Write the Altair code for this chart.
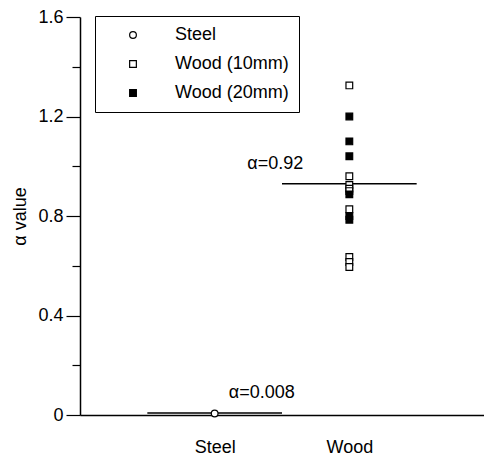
import altair as alt
import pandas as pd

# ---- data ----
categories = ["Steel", "Wood"]
cat_pos = [1, 2]

steel_vals = [0.006]
wood10_vals = [1.325, 0.96, 0.925, 0.91, 0.90, 0.827, 0.635, 0.615, 0.595]
wood20_vals = [1.20, 1.10, 1.04, 0.887, 0.80, 0.785]

mean_labels = ["α=0.008", "α=0.92"]
mean_vals = [0.008, 0.93]
mean_x1 = [0.5, 1.5]
mean_x2 = [1.5, 2.5]
label_x = [1.35, 1.45]
label_y = [0.067, 0.99]

series_names = ["Steel", "Wood (10mm)", "Wood (20mm)"]

rows = []
for v in steel_vals:
    rows.append({"x": 1, "y": v, "series": "Steel"})
for v in wood10_vals:
    rows.append({"x": 2, "y": v, "series": "Wood (10mm)"})
for v in wood20_vals:
    rows.append({"x": 2, "y": v, "series": "Wood (20mm)"})
pts = pd.DataFrame(rows)

means = pd.DataFrame({"x1": mean_x1, "x2": mean_x2, "y": mean_vals,
                      "lx": label_x, "ly": label_y, "label": mean_labels})

FONT = "Liberation Sans"

xscale = alt.Scale(domain=[0, 3], nice=False, zero=False)
yscale = alt.Scale(domain=[0, 1.6], nice=False)

xaxis = alt.Axis(values=cat_pos, title=None, grid=False, ticks=False,
                 labelExpr="datum.value == 1 ? 'Steel' : (datum.value == 2 ? 'Wood' : '')",
                 labelFont=FONT, labelFontSize=18, labelColor="black",
                 labelPadding=23, domainColor="black", domainWidth=1.5)
yaxis = alt.Axis(values=[0, 0.2, 0.4, 0.6, 0.8, 1.0, 1.2, 1.4, 1.6], title="α value",
                 grid=False,
                 labelExpr="round(datum.value*5) % 2 == 1 ? '' : (datum.value == 0 ? '0' : format(datum.value, '.1f'))",
                 tickSize={"condition": {"test": "round(datum.value*5) % 2 == 1", "value": 8}, "value": 14},
                 tickColor="black", tickWidth=1.2, domainColor="black", domainWidth=1.5,
                 labelFont=FONT, labelFontSize=18, labelColor="black", labelPadding=3,
                 titleFont=FONT, titleFontSize=18, titleFontWeight="normal", titleColor="black",
                 titlePadding=8)

leg = alt.Legend(title=None, orient="none", legendX=15, legendY=-1,
                 strokeColor="black", padding=10, symbolOffset=19,
                 symbolSize=45, symbolStrokeWidth=1.2, labelOffset=33,
                 labelFont=FONT, labelFontSize=18, labelColor="black",
                 rowPadding=11)

points = alt.Chart(pts).mark_point(size=45, strokeWidth=1.2, opacity=1).encode(
    x=alt.X("x:Q", scale=xscale, axis=xaxis),
    y=alt.Y("y:Q", scale=yscale, axis=yaxis),
    shape=alt.Shape("series:N", scale=alt.Scale(domain=series_names,
                    range=["circle", "square", "square"]), legend=leg),
    fill=alt.Fill("series:N", scale=alt.Scale(domain=series_names,
                  range=["white", "white", "black"]), legend=leg),
    stroke=alt.Stroke("series:N", scale=alt.Scale(domain=series_names,
                      range=["black", "black", "black"]), legend=leg),
)

rules = alt.Chart(means).mark_rule(color="black", strokeWidth=1.5).encode(
    x=alt.X("x1:Q", scale=xscale),
    x2="x2:Q",
    y=alt.Y("y:Q", scale=yscale),
)

texts = alt.Chart(means).mark_text(font=FONT, fontSize=18, color="black",
                                   align="center", baseline="alphabetic").encode(
    x=alt.X("lx:Q", scale=xscale),
    y=alt.Y("ly:Q", scale=yscale),
    text="label:N",
)

chart = alt.layer(rules, points, texts).properties(
    width=404, height=398,
    autosize=alt.AutoSizeParams(type="none"),
    padding={"left": 80, "top": 17, "right": 0, "bottom": 42},
    background="white",
).configure_view(stroke=None)

chart.save("out.html", embed_options={"renderer": "svg", "actions": False})
